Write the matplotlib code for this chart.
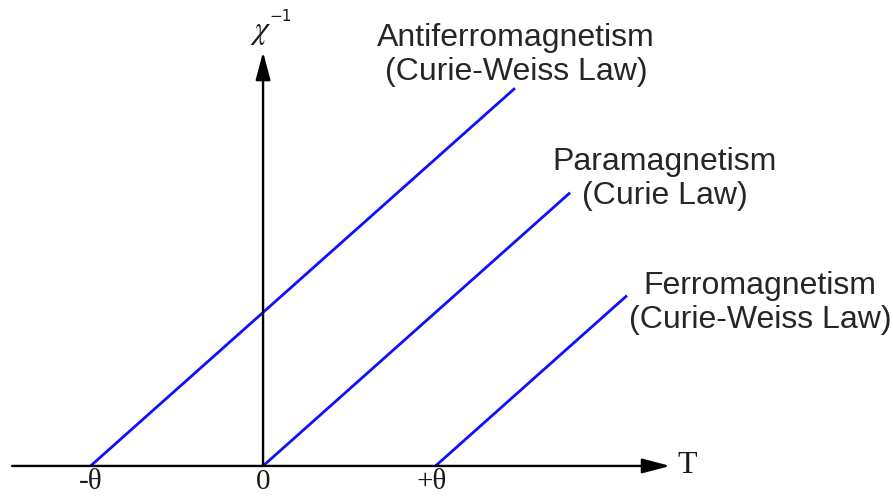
import matplotlib
matplotlib.use("Agg")
import matplotlib.pyplot as plt
import numpy as np

# inverse susceptibility vs temperature, T in units of theta
curie_temps = [-1.0, 0.0, 1.0]          # intercept on the T axis
t_end = [1.46, 1.78, 2.11]              # where each line stops
slope = 0.89                            # same 1/C slope for all three
names = ["Antiferromagnetism\n(Curie-Weiss Law)",
         "Paramagnetism\n(Curie Law)",
         "Ferromagnetism\n(Curie-Weiss Law)"]
label_pos = [(1.467, 2.383), (2.33, 1.664), (2.88, 0.945)]
tick_pos = [-1.0, 0.0, 0.98]
tick_labels = ["-\u03b8", "0", "+\u03b8"]

fig = plt.figure(figsize=(8.93, 4.97), dpi=100)
ax = fig.add_axes([0, 0, 1, 1])
ax.set_xlim(-1.525, 3.652)
ax.set_ylim(-0.180, 2.701)
ax.axis("off")

# axes with arrow heads
arrow = dict(arrowstyle="-|>,head_length=1.7,head_width=0.45",
             color="black", lw=1.7, shrinkA=0, shrinkB=0)
ax.annotate("", xy=(2.36, 0), xytext=(-1.455, 0), arrowprops=arrow)
ax.annotate("", xy=(0, 2.40), xytext=(0, 0), arrowprops=arrow)

for tc, te in zip(curie_temps, t_end):
    t = np.array([tc, te])
    ax.plot(t, slope * (t - tc), color="#0f0fff", lw=2.0,
            solid_capstyle="butt")

for name, (x, y) in zip(names, label_pos):
    ax.text(x, y, name, ha="center", va="center", fontsize=23,
            family="Liberation Sans", color="#262626", linespacing=1.15)

for x, lab in zip(tick_pos, tick_labels):
    ax.text(x, -0.095, lab, ha="center", va="center", fontsize=21,
            family="Liberation Serif", color="#1a1a1a")

ax.text(2.40, 0.0, "T", ha="left", va="center", fontsize=23,
        family="Liberation Serif", color="#1a1a1a")
ax.text(-0.012, 2.52, r"$\chi$", ha="center", va="center", fontsize=23,
        math_fontfamily="stix", color="#1a1a1a")
ax.text(0.103, 2.605, "\u22121", ha="center", va="center", fontsize=11,
        family="DejaVu Sans", color="#1a1a1a")

fig.savefig("out.png", dpi=100)
